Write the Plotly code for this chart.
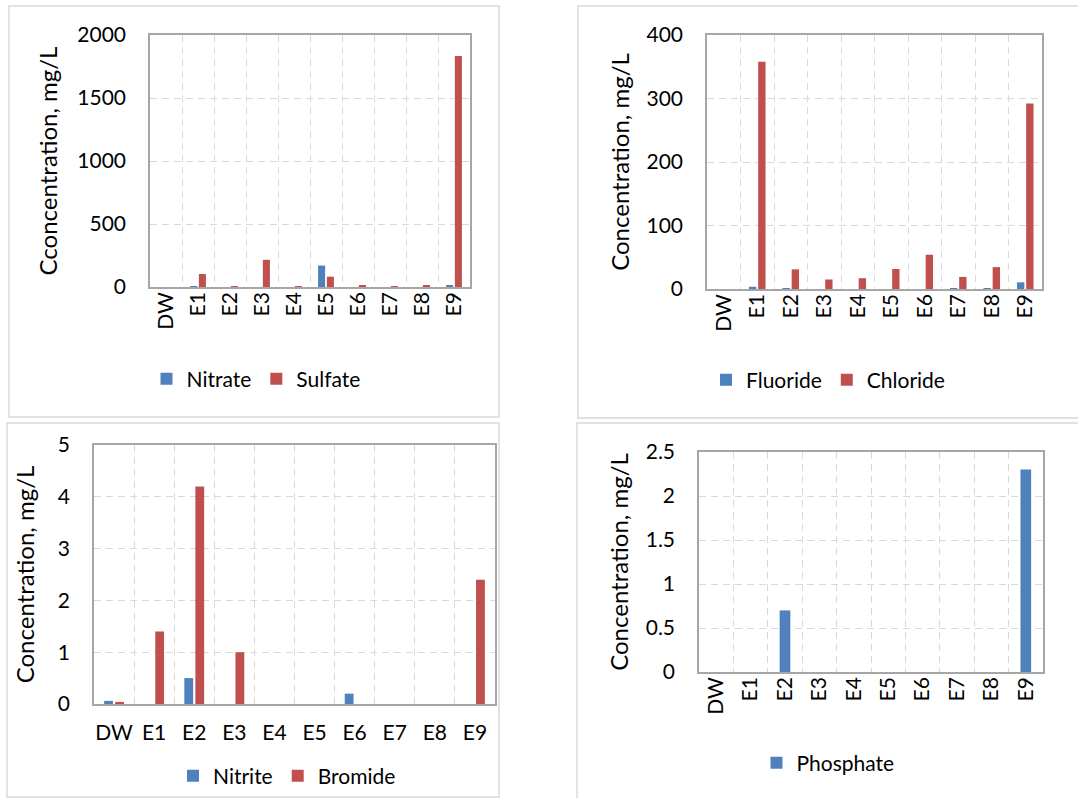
import plotly.graph_objects as go

W, H = 1078, 798

# Sampling points
categories = ["DW", "E1", "E2", "E3", "E4", "E5", "E6", "E7", "E8", "E9"]

# Anion concentrations, mg/L
nitrate = [0, 1, 0, 0, 0, 170, 0, 0, 0, 14]
sulfate = [0, 103, 4, 216, 4, 82, 13, 4, 13, 1834]

fluoride = [0, 3.5, 1, 0, 0, 0, 0, 0.5, 0.5, 10.5]
chloride = [0, 358, 31, 15, 17, 31.5, 54, 19, 34.5, 292]

nitrite = [0.06, 0, 0.5, 0, 0, 0, 0.2, 0, 0, 0]
bromide = [0.04, 1.4, 4.2, 1.0, 0, 0, 0, 0, 0, 2.4]

phosphate = [0, 0, 0.7, 0, 0, 0, 0, 0, 0, 2.3]

BLUE = "#4F81BD"
RED = "#C0504D"
FONT = "Lato"
GRID = "#D9D9D9"
FRAME = "#A6A6A6"


def px_x(a, b):
    return [a / W, b / W]


def px_y(top, bottom):
    return [1 - bottom / H, 1 - top / H]


fig = go.Figure()

panels = [
    # (xaxis, yaxis, legend, series, x-domain, y-domain, y-range, dtick, title, tickangle, title standoff)
    ("x", "y", "legend",
     [("Nitrate", nitrate, BLUE), ("Sulfate", sulfate, RED)],
     px_x(150, 470), px_y(35, 287), [0, 2000], 500, "Cconcentration, mg/L", -90, 13),
    ("x2", "y2", "legend2",
     [("Fluoride", fluoride, BLUE), ("Chloride", chloride, RED)],
     px_x(707, 1042), px_y(35, 289), [0, 400], 100, "Concentration, mg/L", -90, 10),
    ("x3", "y3", "legend3",
     [("Nitrite", nitrite, BLUE), ("Bromide", bromide, RED)],
     px_x(94, 495), px_y(445, 704), [0, 5], 1, "Concentration, mg/L", 0, 16),
    ("x4", "y4", "legend4",
     [("Phosphate", phosphate, BLUE)],
     px_x(699, 1043), px_y(452, 672), [0, 2.5], 0.5, "Concentration, mg/L", -90, 10),
]

layout = dict(
    width=W, height=H,
    margin=dict(l=0, r=0, t=0, b=0),
    paper_bgcolor="white", plot_bgcolor="white",
    font=dict(family=FONT, size=20, color="#000000"),
    barmode="group", bargap=0.45, bargroupgap=0.2,
    showlegend=True,
)

for xa, ya, lg, series, xd, yd, yr, dt, title, ang, tstand in panels:
    single = len(series) == 1
    for name, vals, col in series:
        fig.add_trace(go.Bar(
            x=categories, y=vals, name=name,
            marker=dict(color=col, line=dict(width=0)),
            xaxis=xa, yaxis=ya, legend=lg,
            width=0.31 if single else None,
        ))
    xkey = "xaxis" + xa[1:]
    ykey = "yaxis" + ya[1:]
    layout[xkey] = dict(
        domain=xd, anchor=ya, type="category",
        tickson="boundaries", ticks="",
        showgrid=True, gridcolor=GRID, griddash="7px,5px", gridwidth=1.3,
        showline=True, mirror=True, linecolor=FRAME, linewidth=1.5,
        tickangle=ang, tickfont=dict(size=21),
        ticklabelstandoff=9 if ang == 0 else -5,
        automargin=False, zeroline=False, fixedrange=True,
    )
    layout[ykey] = dict(
        domain=yd, anchor=xa, range=yr, dtick=dt,
        showgrid=True, gridcolor=GRID, griddash="7px,5px", gridwidth=1.3,
        showline=True, mirror=True, linecolor=FRAME, linewidth=1.5,
        zeroline=False, ticks="", tickfont=dict(size=21),
        ticklabelstandoff=18,
        title=dict(text=title, font=dict(size=24), standoff=tstand),
        automargin=False, fixedrange=True,
    )

legend_pos = {
    "legend": (256, 379),
    "legend2": (828, 380),
    "legend3": (287, 776),
    "legend4": (828, 763),
}
for key, (cx, cy) in legend_pos.items():
    layout[key] = dict(
        orientation="h", x=cx / W, y=1 - cy / H,
        xanchor="center", yanchor="middle",
        font=dict(size=21), bgcolor="rgba(0,0,0,0)",
        itemwidth=30, tracegroupgap=0,
    )

# Chart-area boxes
boxes = [(9, 6, 499, 417), (578, 6, 1084, 418), (7, 423, 499, 797), (577, 423, 1084, 804)]
shapes = []
for x0, y0, x1, y1 in boxes:
    shapes.append(dict(
        type="rect", xref="paper", yref="paper",
        x0=x0 / W, x1=x1 / W, y0=1 - y1 / H, y1=1 - y0 / H,
        line=dict(color="#D9D9D9", width=1.5), fillcolor="rgba(0,0,0,0)",
        layer="below",
    ))
layout["shapes"] = shapes

fig.update_layout(**layout)
fig.write_html("out.html", config={"displayModeBar": False})
